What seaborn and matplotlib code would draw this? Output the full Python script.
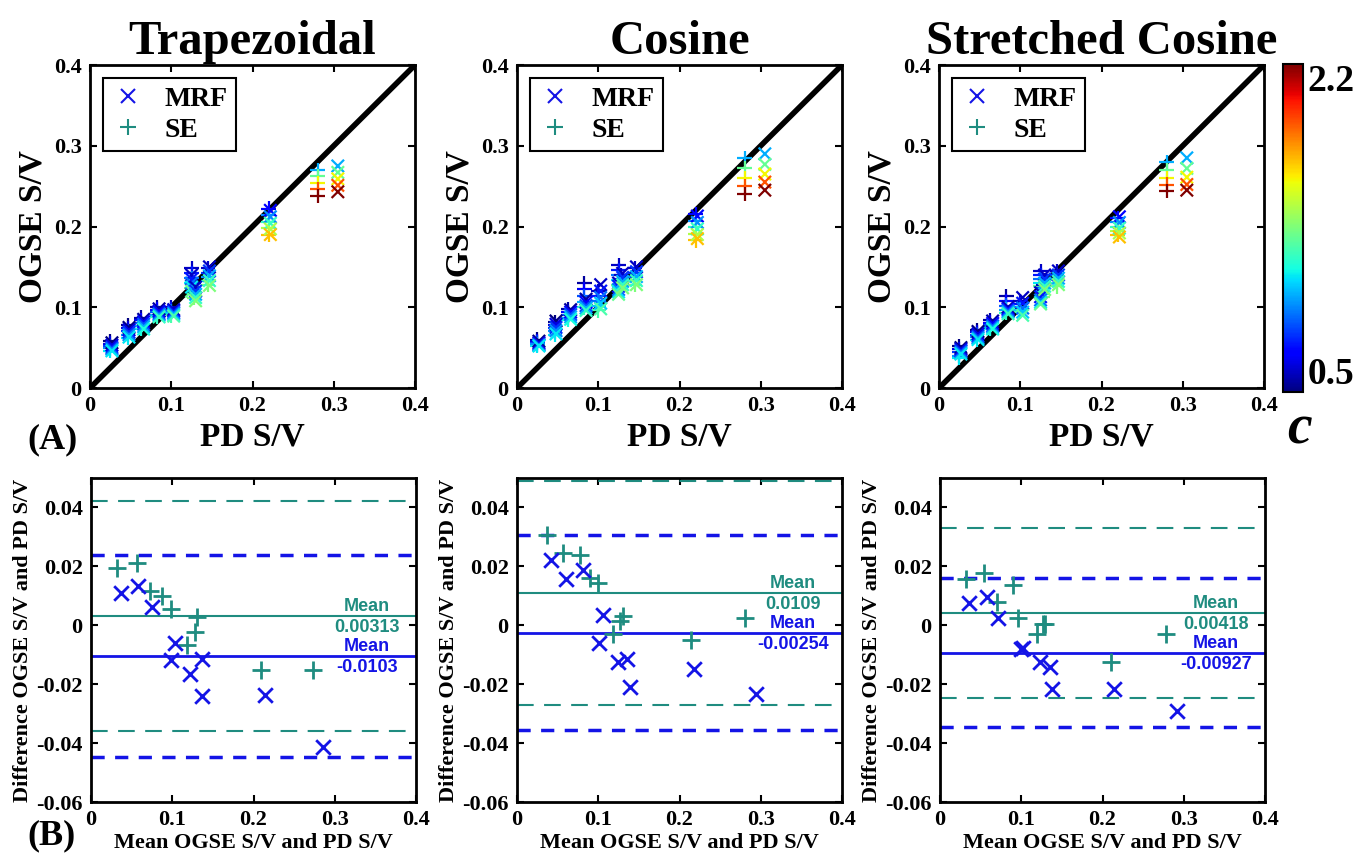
import pandas as pd
import matplotlib
matplotlib.use("Agg")
import matplotlib.pyplot as plt
import seaborn as sns
from matplotlib.colors import Normalize
from matplotlib.cm import ScalarMappable
from matplotlib.lines import Line2D

sns.set_style("ticks")
plt.rcParams["font.family"] = ["Liberation Serif", "DejaVu Serif"]
plt.rcParams["font.weight"] = "bold"
plt.rcParams["axes.labelweight"] = "bold"
plt.rcParams["axes.titleweight"] = "bold"
for key in ["text.color", "axes.labelcolor", "xtick.color", "ytick.color", "axes.edgecolor"]:
    plt.rcParams[key] = "black"

MRF_BLUE = "#1414e6"
SE_TEAL = "#1f8c80"
JET = matplotlib.colormaps["jet"]

# ---- top row: OGSE S/V vs PD S/V, one stack of markers per sample (colour = c) ----
PD_SE = [0.025, 0.047, 0.063, 0.083, 0.100, 0.125, 0.128, 0.145, 0.220, 0.280]
PD_MRF = [0.027, 0.048, 0.066, 0.085, 0.103, 0.125, 0.130, 0.147, 0.222, 0.305]
C_LEVELS = [
    [0.5, 0.65, 0.8, 0.95, 1.1],
    [0.5, 0.65, 0.8, 0.95, 1.1],
    [0.55, 0.7, 0.85, 1.0, 1.15],
    [0.55, 0.7, 0.85, 1.0, 1.2],
    [0.6, 0.75, 0.9, 1.05, 1.25],
    [0.6, 0.75, 0.9, 1.1, 1.3],
    [0.6, 0.8, 1.0, 1.2, 1.35],
    [0.6, 0.8, 1.0, 1.2, 1.35],
    [0.7, 0.95, 1.2, 1.45, 1.7],
    [1.0, 1.3, 1.6, 1.9, 2.2],
]

TRAP_SE = [
    [0.058, 0.055, 0.052, 0.049, 0.046],
    [0.078, 0.074, 0.070, 0.066, 0.062],
    [0.087, 0.084, 0.080, 0.077, 0.073],
    [0.100, 0.097, 0.094, 0.091, 0.088],
    [0.100, 0.097, 0.095, 0.093, 0.090],
    [0.148, 0.142, 0.136, 0.130, 0.124],
    [0.130, 0.125, 0.120, 0.116, 0.112],
    [0.148, 0.143, 0.138, 0.133, 0.128],
    [0.222, 0.214, 0.206, 0.198, 0.190],
    [0.270, 0.262, 0.254, 0.246, 0.238],
]
TRAP_MRF = [
    [0.056, 0.053, 0.050, 0.048, 0.046],
    [0.075, 0.072, 0.069, 0.066, 0.063],
    [0.085, 0.082, 0.079, 0.076, 0.073],
    [0.098, 0.095, 0.092, 0.090, 0.088],
    [0.097, 0.095, 0.093, 0.091, 0.089],
    [0.140, 0.135, 0.130, 0.125, 0.120],
    [0.125, 0.120, 0.116, 0.112, 0.108],
    [0.150, 0.145, 0.139, 0.133, 0.127],
    [0.220, 0.212, 0.204, 0.197, 0.190],
    [0.275, 0.267, 0.259, 0.251, 0.243],
]
COS_SE = [
    [0.060, 0.058, 0.056, 0.054, 0.052],
    [0.082, 0.078, 0.074, 0.070, 0.066],
    [0.098, 0.094, 0.090, 0.087, 0.084],
    [0.130, 0.122, 0.114, 0.106, 0.100],
    [0.120, 0.114, 0.108, 0.102, 0.096],
    [0.152, 0.146, 0.140, 0.134, 0.128],
    [0.140, 0.135, 0.130, 0.126, 0.122],
    [0.148, 0.143, 0.138, 0.133, 0.128],
    [0.215, 0.207, 0.199, 0.191, 0.183],
    [0.285, 0.272, 0.260, 0.250, 0.240],
]
COS_MRF = [
    [0.058, 0.056, 0.054, 0.053, 0.052],
    [0.083, 0.079, 0.075, 0.071, 0.067],
    [0.097, 0.094, 0.091, 0.088, 0.085],
    [0.110, 0.106, 0.102, 0.099, 0.096],
    [0.128, 0.120, 0.112, 0.105, 0.098],
    [0.130, 0.126, 0.122, 0.119, 0.116],
    [0.142, 0.137, 0.132, 0.128, 0.124],
    [0.150, 0.144, 0.138, 0.133, 0.128],
    [0.213, 0.205, 0.197, 0.190, 0.185],
    [0.290, 0.277, 0.265, 0.255, 0.245],
]
STR_SE = [
    [0.052, 0.048, 0.044, 0.040, 0.037],
    [0.072, 0.069, 0.066, 0.063, 0.060],
    [0.084, 0.081, 0.078, 0.075, 0.073],
    [0.114, 0.108, 0.102, 0.097, 0.093],
    [0.108, 0.104, 0.100, 0.097, 0.094],
    [0.145, 0.140, 0.135, 0.130, 0.126],
    [0.128, 0.124, 0.120, 0.116, 0.113],
    [0.145, 0.140, 0.135, 0.130, 0.126],
    [0.210, 0.205, 0.200, 0.195, 0.190],
    [0.280, 0.270, 0.260, 0.252, 0.244],
]
STR_MRF = [
    [0.050, 0.048, 0.046, 0.044, 0.042],
    [0.070, 0.067, 0.064, 0.062, 0.060],
    [0.083, 0.080, 0.077, 0.075, 0.073],
    [0.100, 0.098, 0.096, 0.094, 0.092],
    [0.112, 0.105, 0.099, 0.094, 0.090],
    [0.118, 0.113, 0.109, 0.106, 0.104],
    [0.140, 0.135, 0.130, 0.126, 0.122],
    [0.145, 0.140, 0.136, 0.132, 0.128],
    [0.212, 0.205, 0.198, 0.192, 0.187],
    [0.285, 0.272, 0.261, 0.252, 0.245],
]

# ---- bottom row: Bland-Altman ----
TRAP_BA_SE_X = [0.032, 0.056, 0.073, 0.087, 0.098, 0.118, 0.128, 0.131, 0.209, 0.273]
TRAP_BA_SE_Y = [0.0193, 0.0213, 0.0115, 0.0098, 0.0054, -0.0068, -0.0024, 0.0027, -0.0152, -0.0153]
TRAP_BA_MRF_X = [0.037, 0.058, 0.075, 0.103, 0.098, 0.122, 0.136, 0.136, 0.214, 0.286]
TRAP_BA_MRF_Y = [0.0108, 0.0132, 0.0061, -0.0061, -0.0119, -0.0165, -0.0114, -0.0241, -0.0238, -0.0413]
COS_BA_SE_X = [0.037, 0.057, 0.078, 0.090, 0.100, 0.118, 0.127, 0.131, 0.214, 0.281]
COS_BA_SE_Y = [0.0307, 0.0246, 0.0239, 0.0160, 0.0143, -0.0031, 0.0014, 0.0030, -0.0051, 0.0024]
COS_BA_MRF_X = [0.042, 0.060, 0.081, 0.106, 0.101, 0.124, 0.135, 0.139, 0.218, 0.294]
COS_BA_MRF_Y = [0.0222, 0.0157, 0.0188, 0.0034, -0.0061, -0.0126, -0.0113, -0.0208, -0.0147, -0.0232]
STR_BA_SE_X = [0.032, 0.054, 0.070, 0.090, 0.096, 0.119, 0.127, 0.129, 0.210, 0.278]
STR_BA_SE_Y = [0.0157, 0.0178, 0.0078, 0.0136, 0.0024, -0.0031, 0.0003, 0.0003, -0.0126, -0.0031]
STR_BA_MRF_X = [0.036, 0.058, 0.071, 0.100, 0.102, 0.123, 0.135, 0.138, 0.214, 0.292]
STR_BA_MRF_Y = [0.0075, 0.0096, 0.0024, -0.0082, -0.0078, -0.0126, -0.0143, -0.0215, -0.0215, -0.0290]

SE_MEANS = [0.00313, 0.0109, 0.00418]
MRF_MEANS = [-0.0103, -0.00254, -0.00927]
SE_LOA = [(-0.0359, 0.0421), (-0.0271, 0.0489), (-0.0246, 0.0330)]
MRF_LOA = [(-0.0446, 0.0240), (-0.0356, 0.0305), (-0.0345, 0.0160)]

TITLES = ["Trapezoidal", "Cosine", "Stretched Cosine"]
TICKS_X = [0, 0.1, 0.2, 0.3, 0.4]
TICK_LABELS_X = ["0", "0.1", "0.2", "0.3", "0.4"]
TICKS_BA_Y = [-0.06, -0.04, -0.02, 0, 0.02, 0.04]
TICK_LABELS_BA_Y = ["-0.06", "-0.04", "-0.02", "0", "0.02", "0.04"]


def long_table(pd_vals, ogse, method):
    rows = []
    for x, cs, ys in zip(pd_vals, C_LEVELS, ogse):
        for c, y in zip(cs, ys):
            rows.append({"pd": x, "ogse": y, "c": c, "method": method})
    return pd.DataFrame(rows)


def style_axes(ax):
    for s in ax.spines.values():
        s.set_linewidth(2)
        s.set_color("black")
    ax.tick_params(direction="in", top=True, right=True, length=5, width=1.5,
                   labelsize=16, pad=6, colors="black")


W, H = 1372, 863
fig = plt.figure(figsize=(W / 100, H / 100), dpi=100)

top_left = [90, 517, 939]
bot_left = [91, 517, 940]
top_sets = [(TRAP_SE, TRAP_MRF), (COS_SE, COS_MRF), (STR_SE, STR_MRF)]
ba_sets = [
    (TRAP_BA_SE_X, TRAP_BA_SE_Y, TRAP_BA_MRF_X, TRAP_BA_MRF_Y),
    (COS_BA_SE_X, COS_BA_SE_Y, COS_BA_MRF_X, COS_BA_MRF_Y),
    (STR_BA_SE_X, STR_BA_SE_Y, STR_BA_MRF_X, STR_BA_MRF_Y),
]

for i in range(3):
    # top panel
    ax = fig.add_axes([top_left[i] / W, 1 - 388 / H, 325 / W, 323 / H])
    se_df = long_table(PD_SE, top_sets[i][0], "SE")
    mrf_df = long_table(PD_MRF, top_sets[i][1], "MRF")
    ax.plot([0, 0.4], [0, 0.4], color="black", lw=4, zorder=2)
    sns.scatterplot(data=se_df, x="pd", y="ogse", hue="c", palette=JET,
                    hue_norm=(0.5, 2.2), marker="+", s=110, linewidth=1.6,
                    legend=False, ax=ax, zorder=3)
    sns.scatterplot(data=mrf_df, x="pd", y="ogse", hue="c", palette=JET,
                    hue_norm=(0.5, 2.2), marker="x", s=80, linewidth=1.6,
                    legend=False, ax=ax, zorder=3)
    ax.set_xlim(0, 0.4)
    ax.set_ylim(0, 0.4)
    ax.set_xticks(TICKS_X, TICK_LABELS_X)
    ax.set_yticks(TICKS_X, TICK_LABELS_X)
    style_axes(ax)
    ax.set_title(TITLES[i], fontsize=35, pad=8)
    ax.set_xlabel("PD S/V", fontsize=24, labelpad=4)
    ax.set_ylabel("OGSE S/V", fontsize=24, labelpad=4)
    handles = [
        Line2D([], [], marker="x", color=MRF_BLUE, ls="", ms=10, mew=1.5, label="MRF"),
        Line2D([], [], marker="+", color=SE_TEAL, ls="", ms=12, mew=1.5, label="SE"),
    ]
    leg = ax.legend(handles=handles, loc="upper left", bbox_to_anchor=(0.04, 0.96),
                    fontsize=20, frameon=True, fancybox=False, framealpha=1,
                    edgecolor="black", borderpad=0.3, labelspacing=0.2,
                    handlelength=1.2, handletextpad=0.7, borderaxespad=0)
    leg.get_frame().set_linewidth(1.5)

    # bottom panel
    se_x, se_y, mrf_x, mrf_y = ba_sets[i]
    bx = fig.add_axes([bot_left[i] / W, 1 - 802 / H, 325 / W, 324 / H])
    sns.scatterplot(x=se_x, y=se_y, marker="+", color=SE_TEAL, s=160,
                    linewidth=2, ax=bx, zorder=3)
    sns.scatterplot(x=mrf_x, y=mrf_y, marker="x", color=MRF_BLUE, s=110,
                    linewidth=2, ax=bx, zorder=3)
    bx.axhline(SE_MEANS[i], color=SE_TEAL, lw=1.5)
    bx.axhline(MRF_MEANS[i], color=MRF_BLUE, lw=2)
    for v in SE_LOA[i]:
        bx.axhline(v, color=SE_TEAL, lw=1.5, ls=(0, (8, 5)))
    for v in MRF_LOA[i]:
        bx.axhline(v, color=MRF_BLUE, lw=2.5, ls=(0, (3.8, 3)))
    for mean, col in [(SE_MEANS[i], SE_TEAL), (MRF_MEANS[i], MRF_BLUE)]:
        kw = dict(textcoords="offset points", ha="center", va="baseline", color=col,
                  fontsize=13, fontweight="bold", family=["Liberation Sans"])
        bx.annotate("Mean", xy=(0.34, mean), xytext=(0, 3.5), **kw)
        bx.annotate(f"{mean:g}", xy=(0.34, mean), xytext=(0, -11.5), **kw)
    bx.set_xlim(0, 0.4)
    bx.set_ylim(-0.06, 0.05)
    bx.set_xticks(TICKS_X, TICK_LABELS_X)
    bx.set_yticks(TICKS_BA_Y, TICK_LABELS_BA_Y)
    style_axes(bx)
    bx.set_xlabel("Mean OGSE S/V and PD S/V", fontsize=16, labelpad=2)
    bx.set_ylabel("Difference OGSE S/V and PD S/V", fontsize=16, labelpad=2)

# colour bar for c
cax = fig.add_axes([1283 / W, 1 - 392 / H, 20 / W, 328 / H])
cb = fig.colorbar(ScalarMappable(Normalize(0.5, 2.2), JET), cax=cax, ticks=[0.5, 2.2])
cb.ax.set_yticklabels(["0.5", "2.2"], fontsize=27, fontweight="bold")
cb.ax.tick_params(length=0, pad=3)
labels = cb.ax.get_yticklabels()
labels[0].set_va("bottom")
labels[1].set_va("top")
cb.outline.set_linewidth(1.5)
fig.text(1300 / W, 1 - 430 / H, "c", fontsize=40, fontstyle="italic",
         fontweight="bold", ha="center", va="center")

fig.text(27 / W, 1 - 440 / H, "(A)", fontsize=26, fontweight="bold", va="center")
fig.text(27 / W, 1 - 836 / H, "(B)", fontsize=26, fontweight="bold", va="center")

fig.savefig("out.png", dpi=100)
